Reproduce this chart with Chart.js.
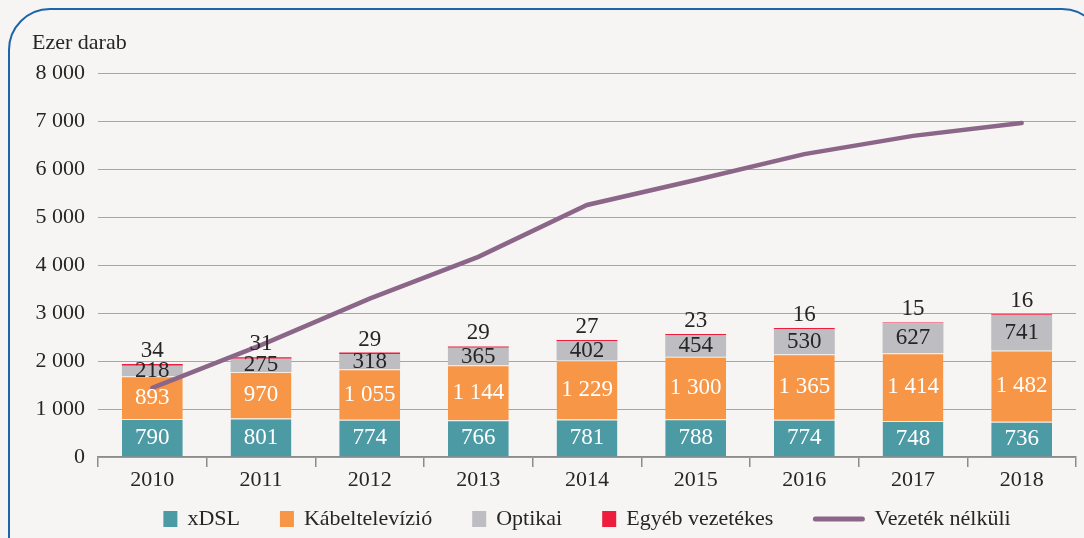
<!DOCTYPE html>
<html>
<head>
<meta charset="utf-8">
<script src="https://cdn.jsdelivr.net/npm/chart.js@4"></script>
<style>
  html, body { margin: 0; padding: 0; background: #f6f5f3; overflow: hidden; }
  #frame {
    position: absolute; left: 8px; top: 8px; width: 1096px; height: 600px;
    border: 2px solid #1f64a8; border-radius: 42px; box-sizing: border-box;
  }
  #wrap { position: absolute; left: 0; top: 0; width: 1084px; height: 538px; }
</style>
</head>
<body>
<div id="frame"></div>
<div id="wrap"><canvas id="chart"></canvas></div>
<script>
const years = ["2010", "2011", "2012", "2013", "2014", "2015", "2016", "2017", "2018"];
const xdsl = [790, 801, 774, 766, 781, 788, 774, 748, 736];
const kabel = [893, 970, 1055, 1144, 1229, 1300, 1365, 1414, 1482];
const optikai = [218, 275, 318, 365, 402, 454, 530, 627, 741];
const egyeb = [34, 31, 29, 29, 27, 23, 16, 15, 16];
const vezeteknelkuli = [1440, 2330, 3300, 4170, 5250, 5770, 6310, 6690, 6960];
const yTicks = [0, 1000, 2000, 3000, 4000, 5000, 6000, 7000, 8000];

const FONT = "'Liberation Serif', 'DejaVu Serif', serif";
const fmt = v => String(v).replace(/\B(?=(\d{3})+(?!\d))/g, " ");

// felirat a szegmenseken + cím + saját jelmagyarázat
const labelsPlugin = {
  id: "labels",
  afterDatasetsDraw(chart) {
    const ctx = chart.ctx;
    ctx.save();
    ctx.font = "23px " + FONT;
    ctx.textAlign = "center";
    ctx.textBaseline = "middle";
    chart.data.datasets.forEach((ds, i) => {
      if (ds.type === "line") return;
      const meta = chart.getDatasetMeta(i);
      meta.data.forEach((bar, j) => {
        const v = ds.data[j];
        if (i === 3) {
          ctx.fillStyle = "#262626";
          ctx.fillText(fmt(v), bar.x, bar.y - 13);
        } else {
          ctx.fillStyle = i < 2 ? "#ffffff" : "#262626";
          ctx.fillText(fmt(v), bar.x, (bar.y + bar.base) / 2);
        }
      });
    });
    ctx.restore();
  },
  afterDraw(chart) {
    const ctx = chart.ctx;
    ctx.save();
    ctx.font = "22px " + FONT;
    ctx.fillStyle = "#262626";
    ctx.textBaseline = "middle";
    ctx.textAlign = "left";
    ctx.fillText("Ezer darab", 32, 43);

    // jelmagyarázat
    const items = chart.data.datasets.map(ds => ({
      text: ds.label, color: ds.type === "line" ? ds.borderColor : ds.backgroundColor, line: ds.type === "line"
    }));
    const gap = 40, boxGap = 10;
    let total = 0;
    items.forEach(it => {
      it.sw = it.line ? 51 : 14;
      it.tw = ctx.measureText(it.text).width;
      total += it.sw + boxGap + it.tw;
    });
    total += gap * (items.length - 1);
    let x = 587 - total / 2;
    const y = 519;
    items.forEach(it => {
      ctx.fillStyle = it.color;
      if (it.line) {
        ctx.strokeStyle = it.color;
        ctx.lineWidth = 5;
        ctx.lineCap = "round";
        ctx.beginPath();
        ctx.moveTo(x + 2, y);
        ctx.lineTo(x + it.sw - 2, y);
        ctx.stroke();
      } else {
        ctx.fillRect(x, y - 8, it.sw, 16);
      }
      x += it.sw + boxGap;
      ctx.fillStyle = "#262626";
      ctx.fillText(it.text, x, y);
      x += it.tw + gap;
    });
    ctx.restore();
  }
};

new Chart(document.getElementById("chart"), {
  data: {
    labels: years,
    datasets: [
      { type: "bar", label: "xDSL", data: xdsl, backgroundColor: "#4c9aa4", borderColor: "#eef0f0", borderWidth: { top: 1 }, borderSkipped: "bottom", stack: "vezetekes", order: 2 },
      { type: "bar", label: "Kábeltelevízió", data: kabel, backgroundColor: "#f79646", borderColor: "#f5ece2", borderWidth: { top: 1 }, borderSkipped: "bottom", stack: "vezetekes", order: 2 },
      { type: "bar", label: "Optikai", data: optikai, backgroundColor: "#bebec2", stack: "vezetekes", order: 2 },
      { type: "bar", label: "Egyéb vezetékes", data: egyeb, backgroundColor: "#ee1c3d", stack: "vezetekes", order: 2 },
      {
        type: "line", label: "Vezeték nélküli", data: vezeteknelkuli, borderColor: "#8b6688",
        borderWidth: 4.5, pointRadius: 0, tension: 0, stack: "vezeteknelkuli", order: 1,
        borderCapStyle: "round"
      }
    ]
  },
  options: {
    responsive: true,
    maintainAspectRatio: false,
    animation: false,
    datasets: { bar: { categoryPercentage: 1, barPercentage: 0.56 } },
    layout: { padding: { left: 35, right: 8, top: 73, bottom: 51 } },
    plugins: { legend: { display: false }, tooltip: { enabled: false } },
    scales: {
      x: {
        stacked: true,
        grid: { offset: true, drawOnChartArea: false, drawTicks: true, tickLength: 10, color: "#8c8c8c", lineWidth: 1.5 },
        border: { color: "#8c8c8c", width: 1.5 },
        ticks: { font: { family: FONT, size: 22 }, color: "#262626", padding: 0 },
        afterFit(scale) { scale.height = 30; }
      },
      y: {
        stacked: true,
        min: 0,
        max: 8000,
        afterBuildTicks(scale) { scale.ticks = yTicks.map(v => ({ value: v })); },
        grid: { color: "#a6a6a6", lineWidth: 1, drawTicks: false },
        border: { display: false },
        ticks: { font: { family: FONT, size: 22 }, color: "#262626", padding: 13, callback: v => fmt(v) },
        afterFit(scale) { scale.width = 63; }
      }
    }
  },
  plugins: [labelsPlugin]
});
</script>
</body>
</html>
